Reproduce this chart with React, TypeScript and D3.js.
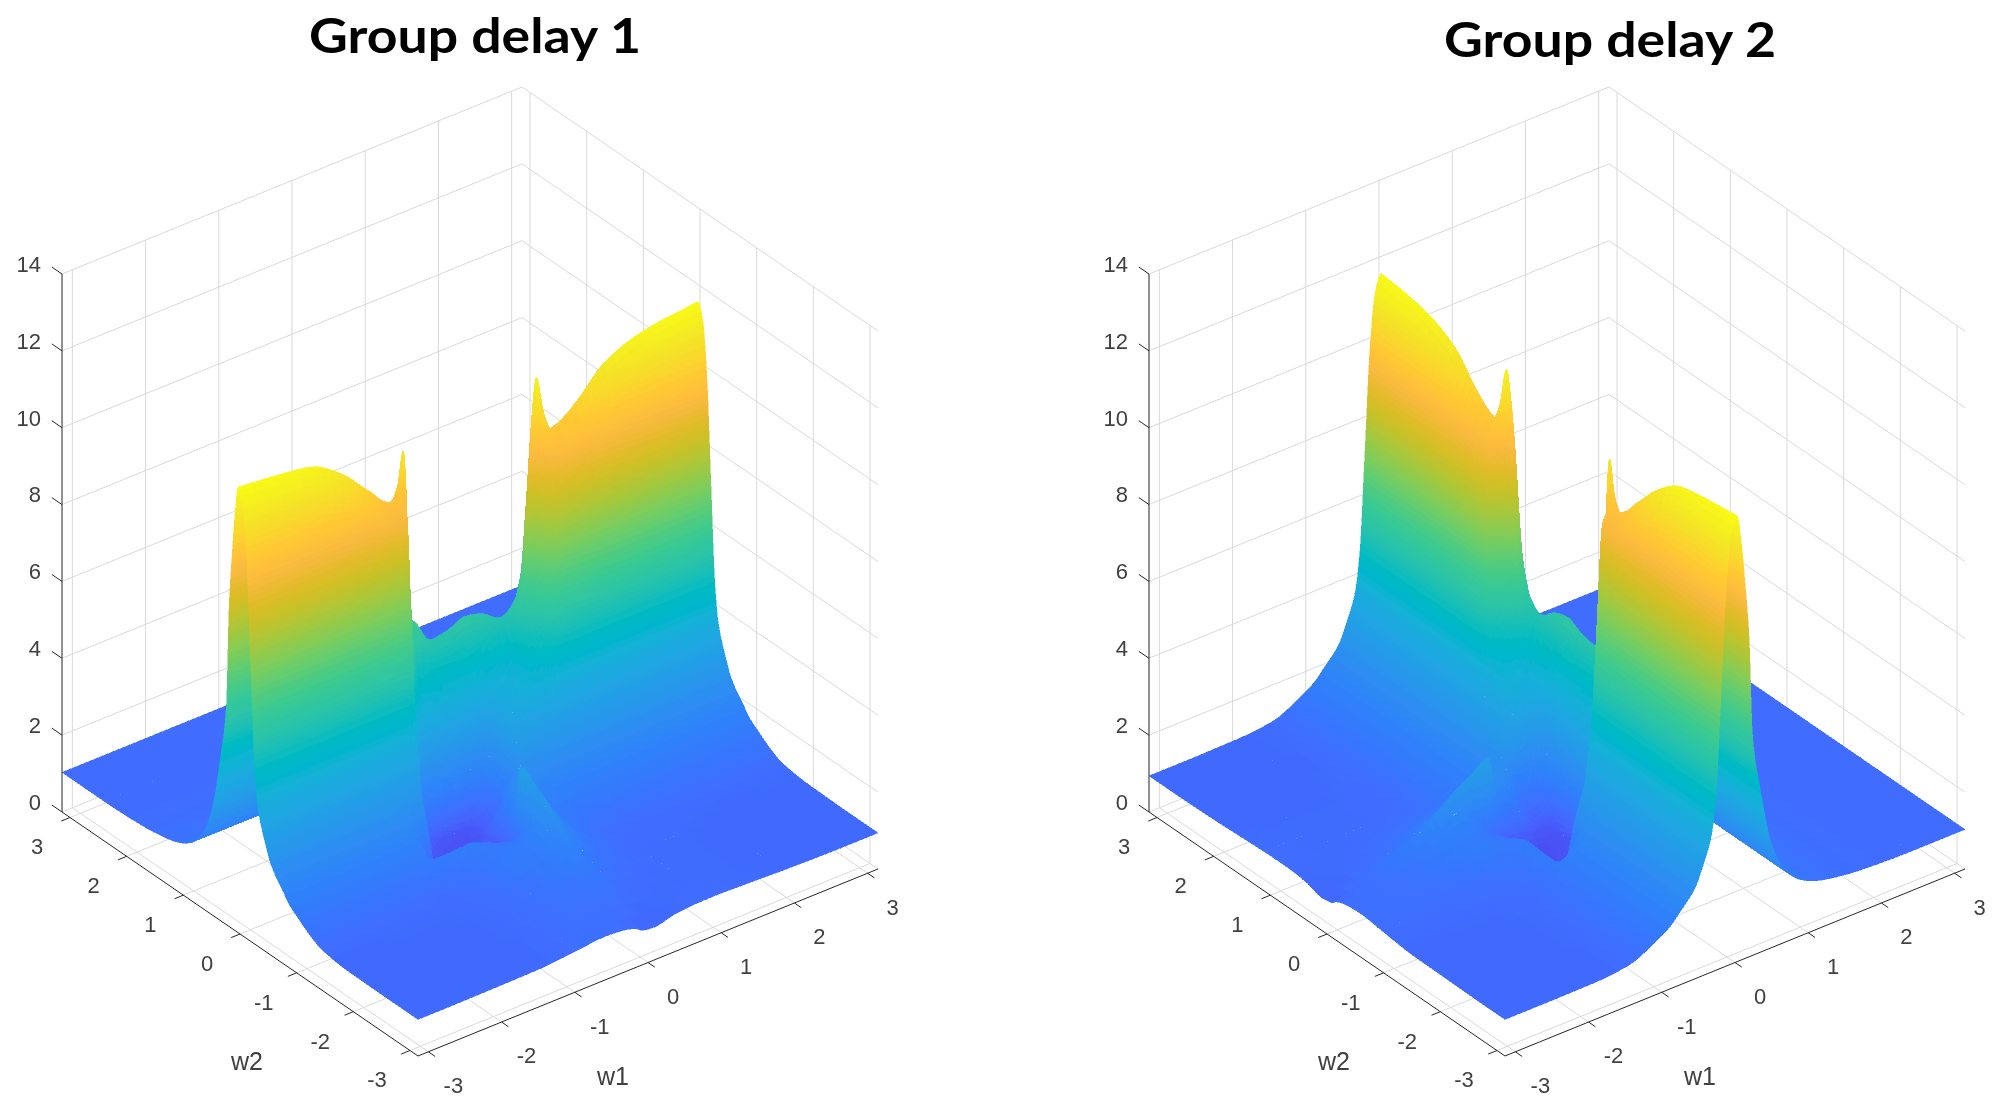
import React, { useEffect, useRef } from 'react'
import * as d3 from 'd3'

const PI = Math.PI

// first frequency axis samples (columns of the table)
const w1Samples = [-PI, -2.63, -2.16, -1.7, -1.45, -1.3, -1.2, -1.06, -0.96, -0.89, -0.8, -0.6, -0.35, -0.16, -0.08, 0.1, 0.35, 0.6, 0.8, 0.87, 0.93, 1.02, 1.12, 1.45, 1.84, 2.23, 2.63, PI]
// second frequency axis samples (rows of the table)
const w2Samples = [-PI, -2.5, -1.9, -1.45, -1.2, -1, -0.9, -0.75, -0.55, -0.42, -0.32, -0.26, -0.19, -0.12, -0.05, 0.03, 0.09, 0.14, 0.19, 0.24, 0.34, 0.5, 0.7, 0.95, 1.2, 1.7, 2.4, PI]

// group delay, one row per w2 sample
const groupDelay1 = [
  [0.95, 0.95, 0.96, 0.97, 0.98, 1, 1.02, 1.05, 1.07, 1.08, 1.1, 1.13, 1.1, 1, 0.9, 0.85, 0.97, 1.02, 1.03, 1.03, 1.03, 1.03, 1.02, 1, 0.97, 0.95, 0.94, 0.94],
  [0.95, 0.95, 0.96, 0.97, 0.98, 1, 1.02, 1.06, 1.09, 1.1, 1.14, 1.18, 1.2, 1.24, 1.26, 1.13, 1.03, 1, 1, 1, 1, 1, 1, 0.98, 0.96, 0.95, 0.94, 0.94],
  [0.96, 0.96, 0.97, 0.98, 1, 1.02, 1.05, 1.1, 1.13, 1.15, 1.2, 1.35, 1.48, 1.6, 1.75, 1.5, 1.25, 1.12, 1.04, 1.02, 1.02, 1.02, 1.02, 1, 0.98, 0.96, 0.96, 0.96],
  [1.05, 1.05, 1.05, 1.06, 1.07, 1.09, 1.12, 1.18, 1.24, 1.3, 1.38, 1.55, 1.6, 2.05, 2.45, 1.95, 1.45, 1.2, 1.1, 1.1, 1.1, 1.08, 1.07, 1.06, 1.05, 1.05, 1.05, 1.05],
  [1.25, 1.25, 1.25, 1.26, 1.27, 1.28, 1.3, 1.35, 1.38, 1.4, 1.42, 1.45, 1.42, 1.6, 2.75, 2.15, 1.55, 1.33, 1.28, 1.27, 1.27, 1.26, 1.26, 1.25, 1.25, 1.25, 1.25, 1.25],
  [1.48, 1.48, 1.48, 1.48, 1.48, 1.49, 1.5, 1.5, 1.52, 1.53, 1.54, 1.42, 1.2, 1.08, 3, 2.2, 1.62, 1.52, 1.5, 1.5, 1.5, 1.49, 1.48, 1.48, 1.48, 1.48, 1.48, 1.48],
  [1.6, 1.6, 1.6, 1.6, 1.6, 1.55, 0.95, 0.75, 0.6, 0.55, 0.5, 0.48, 0.5, 0.7, 2, 2.2, 1.72, 1.62, 1.6, 1.6, 1.6, 1.6, 1.6, 1.6, 1.6, 1.6, 1.6, 1.6],
  [1.9, 1.9, 1.9, 1.9, 1.9, 1.85, 1.15, 0.72, 0.6, 0.55, 0.5, 0.48, 0.5, 0.75, 1.3, 2.3, 1.95, 1.9, 1.9, 1.9, 1.9, 1.9, 1.9, 1.9, 1.9, 1.9, 1.9, 1.9],
  [2.35, 2.35, 2.35, 2.35, 2.35, 2.35, 2.3, 2.2, 0.68, 0.6, 0.55, 0.5, 0.5, 0.8, 1.1, 1.85, 2.4, 2.35, 2.35, 2.35, 2.35, 2.35, 2.35, 2.35, 2.35, 2.35, 2.35, 2.35],
  [2.95, 2.95, 2.95, 2.95, 2.95, 2.95, 2.95, 2.95, 1.9, 0.7, 0.6, 0.55, 0.52, 0.65, 0.85, 1.25, 2.85, 2.95, 2.95, 2.95, 2.95, 2.95, 2.95, 2.95, 2.95, 2.95, 2.95, 2.95],
  [3.58, 3.58, 3.58, 3.58, 3.58, 3.58, 3.58, 3.58, 3.3, 1.1, 0.7, 0.58, 0.55, 0.6, 0.7, 1.15, 3.1, 3.5, 3.55, 3.58, 3.58, 3.58, 3.58, 3.58, 3.58, 3.58, 3.58, 3.58],
  [4.55, 4.55, 4.55, 4.55, 4.55, 4.55, 4.55, 4.55, 4.4, 1.6, 0.9, 0.62, 0.55, 0.6, 0.7, 1.2, 3.2, 3.8, 4, 4.2, 4.4, 4.55, 4.55, 4.55, 4.55, 4.55, 4.55, 4.55],
  [7.15, 7.15, 7.15, 7.15, 7.15, 7.15, 7.15, 7.15, 6.9, 2.2, 1.1, 0.7, 0.6, 0.65, 0.8, 1.35, 3.3, 4, 4.4, 5.2, 6.3, 7, 7.15, 7.15, 7.15, 7.15, 7.15, 7.15],
  [9.8, 9.8, 9.8, 9.7, 9.6, 9.45, 9.3, 9.2, 9.3, 4.5, 2, 1.3, 1, 0.9, 1, 1.7, 3.35, 3.9, 5, 6.2, 7.5, 9, 9.3, 9.6, 9.8, 9.8, 9.8, 9.8],
  [11.2, 11.1, 11, 10.5, 10, 9.7, 9.5, 9.35, 9.6, 7.5, 2.6, 2, 1.95, 1.9, 1.9, 2.1, 3.45, 3.9, 5.8, 7.3, 9, 10, 9.55, 9.9, 10.6, 10.95, 11.1, 11.15],
  [11.6, 11.5, 11.36, 10.8, 10.3, 10, 9.77, 9.6, 9.95, 10.8, 7, 3.4, 3.3, 3.2, 3.2, 3.2, 3.7, 4.1, 6.8, 9.4, 11.3, 10.3, 9.83, 10.2, 10.95, 11.3, 11.46, 11.56],
  [10.8, 10.8, 10.7, 10.2, 9.8, 9.5, 9.3, 9.2, 9.4, 8.6, 4.8, 3.9, 3.9, 3.85, 3.85, 3.85, 4.2, 4.6, 6.4, 8.8, 10.4, 9.9, 9.4, 9.8, 10.3, 10.6, 10.7, 10.8],
  [9.7, 9.7, 9.7, 9.6, 9.4, 9.2, 9.1, 9, 9.1, 8.2, 5.3, 4.6, 4.3, 4.3, 4.3, 4.3, 4.6, 4.9, 5.9, 7.8, 9.2, 9.5, 9.2, 9.4, 9.6, 9.7, 9.7, 9.7],
  [8.4, 8.4, 8.4, 8.4, 8.4, 8.3, 8.2, 8.1, 8.1, 7.2, 5.7, 5.2, 5, 5, 5, 5.1, 5.1, 5.1, 5.6, 6.5, 7.6, 8.2, 8.3, 8.4, 8.4, 8.4, 8.4, 8.4],
  [5.7, 5.7, 5.7, 5.7, 5.7, 5.7, 5.7, 5.7, 5.8, 5.9, 6.1, 5.95, 5.25, 5.3, 5.35, 5.5, 5.39, 5.09, 5.4, 5.8, 5.9, 5.8, 5.7, 5.7, 5.7, 5.7, 5.7, 5.7],
  [4.3, 4.3, 4.3, 4.3, 4.3, 4.3, 4.3, 4.3, 4.3, 4.3, 4.1, 3.6, 3.4, 3.4, 3.4, 3.4, 3.4, 3.4, 3.6, 4, 4.3, 4.3, 4.3, 4.3, 4.3, 4.3, 4.3, 4.3],
  [2.7, 2.7, 2.7, 2.7, 2.7, 2.7, 2.7, 2.7, 2.7, 2.7, 2.6, 2.3, 2.2, 2.2, 2.2, 2.2, 2.2, 2.2, 2.3, 2.5, 2.7, 2.7, 2.7, 2.7, 2.7, 2.7, 2.7, 2.7],
  [1.82, 1.82, 1.82, 1.82, 1.82, 1.82, 1.82, 1.82, 1.82, 1.82, 1.75, 1.6, 1.55, 1.55, 1.55, 1.55, 1.55, 1.55, 1.6, 1.7, 1.82, 1.82, 1.82, 1.82, 1.82, 1.82, 1.82, 1.82],
  [1.4, 1.4, 1.4, 1.4, 1.4, 1.4, 1.4, 1.4, 1.4, 1.4, 1.35, 1.28, 1.25, 1.25, 1.25, 1.25, 1.25, 1.25, 1.28, 1.33, 1.4, 1.4, 1.4, 1.4, 1.4, 1.4, 1.4, 1.4],
  [1.22, 1.22, 1.22, 1.22, 1.22, 1.22, 1.22, 1.22, 1.22, 1.22, 1.2, 1.15, 1.12, 1.12, 1.12, 1.12, 1.12, 1.12, 1.15, 1.18, 1.22, 1.22, 1.22, 1.22, 1.22, 1.22, 1.22, 1.22],
  [1.08, 1.08, 1.08, 1.08, 1.08, 1.08, 1.08, 1.08, 1.08, 1.08, 1.07, 1.06, 1.05, 1.05, 1.05, 1.05, 1.05, 1.05, 1.06, 1.07, 1.08, 1.08, 1.08, 1.08, 1.08, 1.08, 1.08, 1.08],
  [1.03, 1.03, 1.03, 1.03, 1.03, 1.03, 1.03, 1.03, 1.03, 1.03, 1.03, 1.03, 1.03, 1.03, 1.03, 1.03, 1.03, 1.03, 1.03, 1.03, 1.03, 1.03, 1.03, 1.03, 1.03, 1.03, 1.03, 1.03],
  [1.03, 1.03, 1.03, 1.03, 1.03, 1.03, 1.03, 1.03, 1.03, 1.03, 1.03, 1.03, 1.03, 1.03, 1.03, 1.03, 1.03, 1.03, 1.03, 1.03, 1.03, 1.03, 1.03, 1.03, 1.03, 1.03, 1.03, 1.03],
]

const freqTicks = [-3, -2, -1, 0, 1, 2, 3]
const delayTicks = [0, 2, 4, 6, 8, 10, 12, 14]

// the old bright parula map, with the orange bump
const parula = [
  [0.2422, 0.1504, 0.6603], [0.2504, 0.165, 0.7076], [0.2578, 0.1818, 0.7511], [0.2647, 0.1978, 0.7952],
  [0.2706, 0.2147, 0.8364], [0.2751, 0.2342, 0.871], [0.2783, 0.2559, 0.8991], [0.2803, 0.2782, 0.9221],
  [0.2813, 0.3006, 0.9414], [0.281, 0.3228, 0.9579], [0.2795, 0.3447, 0.9717], [0.276, 0.3667, 0.9829],
  [0.2699, 0.3892, 0.9906], [0.2602, 0.4123, 0.9952], [0.244, 0.4358, 0.9988], [0.2206, 0.4603, 0.9973],
  [0.1963, 0.4847, 0.9892], [0.1834, 0.5074, 0.9798], [0.1786, 0.5289, 0.9682], [0.1764, 0.5499, 0.952],
  [0.1687, 0.5703, 0.9359], [0.154, 0.5902, 0.9218], [0.146, 0.6091, 0.9079], [0.138, 0.6276, 0.8973],
  [0.1248, 0.6459, 0.8883], [0.1113, 0.6635, 0.8763], [0.0952, 0.6798, 0.8598], [0.0689, 0.6948, 0.8394],
  [0.0297, 0.7082, 0.8163], [0.0036, 0.7203, 0.7917], [0.0067, 0.7312, 0.766], [0.0433, 0.7411, 0.7394],
  [0.0964, 0.75, 0.712], [0.1408, 0.7584, 0.6842], [0.1717, 0.767, 0.6554], [0.1938, 0.7758, 0.6251],
  [0.2161, 0.7843, 0.5923], [0.247, 0.7918, 0.5567], [0.2906, 0.7973, 0.5188], [0.3406, 0.8008, 0.4789],
  [0.3909, 0.8029, 0.4354], [0.4456, 0.8024, 0.3909], [0.5044, 0.7993, 0.348], [0.5616, 0.7942, 0.3045],
  [0.6174, 0.7876, 0.2612], [0.672, 0.7793, 0.2227], [0.7242, 0.7698, 0.191], [0.7738, 0.7598, 0.1646],
  [0.8203, 0.7498, 0.1535], [0.8634, 0.7406, 0.1596], [0.9035, 0.733, 0.1774], [0.9393, 0.7288, 0.21],
  [0.9728, 0.7298, 0.2394], [0.9956, 0.7434, 0.2371], [0.997, 0.7659, 0.2199], [0.9952, 0.7861, 0.1999],
  [0.9892, 0.8136, 0.1885], [0.9786, 0.8422, 0.1766], [0.9676, 0.8666, 0.1629], [0.961, 0.8903, 0.1537],
  [0.9597, 0.9135, 0.1423], [0.9628, 0.9373, 0.1265], [0.9691, 0.9606, 0.1064], [0.9769, 0.9839, 0.0805],
].map(([r, g, b]) => d3.rgb(r * 255, g * 255, b * 255).formatHex())

const parulaScale = d3.scaleLinear<string>()
  .domain(parula.map((_, i) => i / (parula.length - 1)))
  .range(parula)
  .interpolate(d3.interpolateRgb)
  .clamp(true)

// delay to colormap position, fitted by eye on the two panels
const delayToColor = d3.scaleLinear().domain([0.45, 0.95, 4.25, 11.6]).range([0.127, 0.21, 0.46, 1]).clamp(true)

// view: screen offset of each data direction from the front floor corner
const FRONT = [418, 1056]
const x1 = d3.scaleLinear().domain([-PI, PI]).range([0, 460])
const y1 = d3.scaleLinear().domain([-PI, PI]).range([0, -187])
const x2 = d3.scaleLinear().domain([-PI, PI]).range([0, -356])
const y2 = d3.scaleLinear().domain([-PI, PI]).range([0, -244])
const yz = d3.scaleLinear().domain([0, 14]).range([0, -538])

const MAX_STEP = 0.15
const GRID = '#d9d9d9'
const AXIS = '#262626'
const TEXT = '#404040'
const FONT = '"Liberation Sans", Arial, sans-serif'

// slopes along one line of samples, limited so the curve keeps to the samples (Fritsch-Carlson style)
function slopes(s: number[], v: number[]) {
  const n = s.length
  const del = d3.range(n - 1).map(k => (v[k + 1] - v[k]) / (s[k + 1] - s[k]))
  return d3.range(n).map(k => {
    if (k === 0) return del[0]
    if (k === n - 1) return del[n - 2]
    if (del[k - 1] * del[k] <= 0) return 0
    const h0 = s[k] - s[k - 1], h1 = s[k + 1] - s[k]
    return (2 * h0 + h1 + h0 + 2 * h1) / ((2 * h1 + h0) / del[k - 1] + (h1 + 2 * h0) / del[k])
  })
}

// cubic Hermite basis
const h00 = (t: number) => (1 + 2 * t) * (1 - t) * (1 - t)
const h10 = (t: number) => t * (1 - t) * (1 - t)
const h01 = (t: number) => t * t * (3 - 2 * t)
const h11 = (t: number) => t * t * (t - 1)

function drawPanel(root: any, opts: any) {
  const { dx, title, titleX, titleY, xs, ys, zAt } = opts
  const g = root.append('g').attr('transform', `translate(${dx},0)`)
  const px = (a: number, b: number) => FRONT[0] + x1(a) + x2(b)
  const py = (a: number, b: number, z: number) => FRONT[1] + y1(a) + y2(b) + yz(z)
  const seg = (sel: any, p: number[], q: number[], color: string, w = 1) =>
    sel.append('line')
      .attr('x1', p[0]).attr('y1', p[1]).attr('x2', q[0]).attr('y2', q[1])
      .attr('stroke', color).attr('stroke-width', w)
  const pt = (a: number, b: number, z: number) => [px(a, b), py(a, b, z)]

  // box grid: walls first, then floor
  const grid = g.append('g')
  freqTicks.forEach(k => {
    seg(grid, pt(k, PI, 0), pt(k, PI, 14), GRID)
    seg(grid, pt(PI, k, 0), pt(PI, k, 14), GRID)
    seg(grid, pt(k, -PI, 0), pt(k, PI, 0), GRID)
    seg(grid, pt(-PI, k, 0), pt(PI, k, 0), GRID)
  })
  delayTicks.forEach(k => {
    seg(grid, pt(-PI, PI, k), pt(PI, PI, k), GRID)
    seg(grid, pt(PI, PI, k), pt(PI, -PI, k), GRID)
  })

  // tangents of the table in both directions, for the interp shading of the surface
  const zRow = (j: number) => xs.map((_: number, i: number) => zAt(i, j))
  const zCol = (i: number) => ys.map((_: number, j: number) => zAt(i, j))
  const dA = ys.map((_: number, j: number) => slopes(xs, zRow(j)))
  const dBc = xs.map((_: number, i: number) => slopes(ys, zCol(i)))

  // surface, far cells first, cut finer where the delay changes fast
  const cells: { d: string; c: string }[] = []
  const line = d3.line()
  for (let j = ys.length - 2; j >= 0; j--) {
    for (let i = xs.length - 2; i >= 0; i--) {
      const z00 = zAt(i, j), z10 = zAt(i + 1, j), z01 = zAt(i, j + 1), z11 = zAt(i + 1, j + 1)
      const ha = xs[i + 1] - xs[i], hb = ys[j + 1] - ys[j]
      const surf = (u: number, v: number) => {
        const p0 = h00(u) * z00 + h01(u) * z10 + ha * (h10(u) * dA[j][i] + h11(u) * dA[j][i + 1])
        const p1 = h00(u) * z01 + h01(u) * z11 + ha * (h10(u) * dA[j + 1][i] + h11(u) * dA[j + 1][i + 1])
        const m0 = dBc[i][j] * (1 - u) + dBc[i + 1][j] * u
        const m1 = dBc[i][j + 1] * (1 - u) + dBc[i + 1][j + 1] * u
        return h00(v) * p0 + h01(v) * p1 + hb * (h10(v) * m0 + h11(v) * m1)
      }
      const rangeU = Math.max(Math.abs(z10 - z00), Math.abs(z11 - z01))
      const rangeV = Math.max(Math.abs(z01 - z00), Math.abs(z11 - z10))
      const curved = Math.max(rangeU, rangeV) > 0.03 ? 3 : 1
      const nu = Math.min(40, Math.max(curved, Math.ceil(rangeU / MAX_STEP)))
      const nv = Math.min(60, Math.max(curved, Math.ceil(rangeV / MAX_STEP)))
      const at = (u: number, v: number): [number, number] => {
        const a = xs[i] + ha * u, b = ys[j] + hb * v
        return [px(a, b), py(a, b, surf(u, v))]
      }
      for (let v = nv - 1; v >= 0; v--) {
        for (let u = nu - 1; u >= 0; u--) {
          const u0 = u / nu, u1 = (u + 1) / nu, v0 = v / nv, v1 = (v + 1) / nv
          cells.push({
            d: line([at(u0, v0), at(u1, v0), at(u1, v1), at(u0, v1)]) + 'Z',
            c: parulaScale(delayToColor(surf((u0 + u1) / 2, (v0 + v1) / 2))),
          })
        }
      }
    }
  }
  g.append('g').attr('shape-rendering', 'crispEdges')
    .selectAll('path').data(cells).join('path')
    .attr('d', (d: any) => d.d)
    .attr('fill', (d: any) => d.c)
    .attr('stroke', (d: any) => d.c)
    .attr('stroke-width', 0.5)

  // axes and ticks
  const axes = g.append('g')
  seg(axes, pt(-PI, PI, 0), pt(-PI, PI, 14), AXIS)
  seg(axes, pt(-PI, PI, 0), pt(-PI, -PI, 0), AXIS)
  seg(axes, pt(-PI, -PI, 0), pt(PI, -PI, 0), AXIS)
  const labels = g.append('g').attr('font-family', FONT).attr('fill', TEXT).attr('font-size', 22)
  freqTicks.forEach(k => {
    seg(axes, pt(-PI, k, 0), pt(-PI - 0.12, k, 0), AXIS)
    seg(axes, pt(k, -PI, 0), pt(k, -PI - 0.12, 0), AXIS)
    const [ax, ay] = pt(-PI, k, 0)
    labels.append('text').attr('x', ax - 33).attr('y', ay + 29).attr('dy', '0.36em')
      .attr('text-anchor', 'middle').text(k)
    const [bx, by] = pt(k, -PI, 0)
    labels.append('text').attr('x', bx + 25).attr('y', by + 33.5).attr('dy', '0.36em')
      .attr('text-anchor', 'middle').text(k)
  })
  delayTicks.forEach(k => {
    seg(axes, pt(-PI, PI, k), pt(-PI, PI + 0.18, k), AXIS)
    const [zx, zy] = pt(-PI, PI, k)
    labels.append('text').attr('x', zx - 21).attr('y', zy - 10).attr('dy', '0.36em')
      .attr('text-anchor', 'end').text(k)
  })
  labels.append('text').attr('x', 247).attr('y', 1061).attr('dy', '0.36em')
    .attr('font-size', 25).attr('text-anchor', 'middle').text('w2')
  labels.append('text').attr('x', 613).attr('y', 1076).attr('dy', '0.36em')
    .attr('font-size', 25).attr('text-anchor', 'middle').text('w1')

  g.append('text')
    .attr('x', titleX - dx).attr('y', titleY)
    .attr('text-anchor', 'middle')
    .attr('font-family', 'Lato, sans-serif').attr('font-weight', 700).attr('font-size', 48)
    .attr('textLength', 332).attr('lengthAdjust', 'spacingAndGlyphs')
    .attr('fill', '#000').text(title)
}

export default function App() {
  const ref = useRef<SVGSVGElement | null>(null)

  useEffect(() => {
    const svg = d3.select(ref.current)
    svg.selectAll('*').remove()
    // the reference is a soft, rescaled screenshot
    svg.append('defs').append('filter').attr('id', 'soft')
      .attr('filterUnits', 'userSpaceOnUse')
      .attr('x', 0).attr('y', 0).attr('width', 2015).attr('height', 1117)
      .append('feGaussianBlur').attr('stdDeviation', 0.55)
    svg.append('rect').attr('width', 2015).attr('height', 1117).attr('fill', '#fff')
    const page = svg.append('g').attr('filter', 'url(#soft)')

    drawPanel(page, {
      dx: 0, title: 'Group delay 1', titleX: 475, titleY: 53,
      xs: w1Samples, ys: w2Samples,
      zAt: (i: number, j: number) => groupDelay1[j][i],
    })
    // the second panel is the same table with the two frequencies swapped
    drawPanel(page, {
      dx: 1087, title: 'Group delay 2', titleX: 1610, titleY: 57,
      xs: w2Samples, ys: w1Samples,
      zAt: (i: number, j: number) => groupDelay1[i][j],
    })
  }, [])

  return (
    <svg ref={ref} width={2015} height={1117}
      style={{ position: 'absolute', left: 0, top: 0, display: 'block' }} />
  )
}
